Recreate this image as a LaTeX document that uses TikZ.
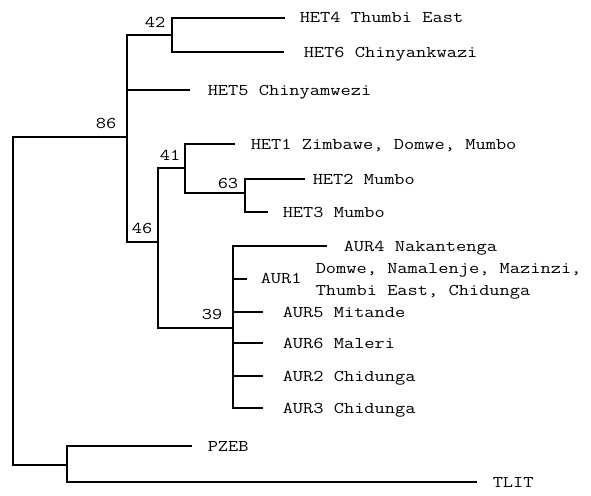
\documentclass[tikz,border=0pt]{standalone}
\usepackage{fontspec}
\setmonofont{Latin Modern Mono}[FakeStretch=1.21]
\newcommand\treefont{\fontsize{16.4}{22}\selectfont\ttfamily}
\begin{document}
\begin{tikzpicture}[x=1pt,y=-1pt,line width=1.5pt,
  branch/.style={draw=black,line join=miter},
  leaf/.style={anchor=base west,inner sep=0pt,font=\treefont},
  boot/.style={anchor=center,inner sep=0pt,font=\treefont}]
\useasboundingbox[fill=white] (0,0) rectangle (591,495);
% internal nodes
\coordinate (root) at (13,300);
\coordinate (n86) at (127,137);
\coordinate (n42) at (172,35);
\coordinate (n46) at (158,242);
\coordinate (n41) at (185,168);
\coordinate (n63) at (245,193);
\coordinate (n39) at (233,328);
\coordinate (nout) at (67,465);
% branch ends
\coordinate (e4) at (285,18);
\coordinate (e6) at (284,52);
\coordinate (e5) at (190,90);
\coordinate (e1) at (235,144);
\coordinate (e2) at (305,179);
\coordinate (e3) at (268,212);
\coordinate (a4) at (327,246);
\coordinate (a1) at (247,279);
\coordinate (a5) at (263,312);
\coordinate (a6) at (263,343);
\coordinate (a2) at (263,376);
\coordinate (a3) at (263,408);
\coordinate (pz) at (192,446);
\coordinate (tl) at (477,482);
% branches
\draw[branch] (root) |- (n86);
\draw[branch] (root) |- (nout);
\draw[branch] (n86) |- (n42);
\draw[branch] (n86) |- (e5);
\draw[branch] (n86) |- (n46);
\draw[branch] (n42) |- (e4);
\draw[branch] (n42) |- (e6);
\draw[branch] (n46) |- (n41);
\draw[branch] (n46) |- (n39);
\draw[branch] (n41) |- (e1);
\draw[branch] (n41) |- (n63);
\draw[branch] (n63) |- (e2);
\draw[branch] (n63) |- (e3);
\draw[branch] (n39) |- (a4);
\draw[branch] (n39) |- (a1);
\draw[branch] (n39) |- (a5);
\draw[branch] (n39) |- (a6);
\draw[branch] (n39) |- (a2);
\draw[branch] (n39) |- (a3);
\draw[branch] (nout) |- (pz);
\draw[branch] (nout) |- (tl);
% leaf labels
\node[leaf] (het4) at (299,23) {HET4 Thumbi East};
\node[leaf] (het6) at (303,57) {HET6 Chinyankwazi};
\node[leaf] (het5) at (207,95) {HET5 Chinyamwezi};
\node[leaf] (het1) at (250,149) {HET1 Zimbawe, Domwe, Mumbo};
\node[leaf] (het2) at (312,184) {HET2 Mumbo};
\node[leaf] (het3) at (282,217) {HET3 Mumbo};
\node[leaf] (aur4) at (343,251) {AUR4 Nakantenga};
\node[leaf] (aur1) at (260,283) {AUR1};
\node[leaf] (aur1a) at (315,273) {Domwe, Namalenje, Mazinzi,};
\node[leaf] (aur1b) at (315,295) {Thumbi East, Chidunga};
\node[leaf] (aur5) at (282,317) {AUR5 Mitande};
\node[leaf] (aur6) at (282,348) {AUR6 Maleri};
\node[leaf] (aur2) at (282,381) {AUR2 Chidunga};
\node[leaf] (aur3) at (282,413) {AUR3 Chidunga};
\node[leaf] (pzeb) at (207,451) {PZEB};
\node[leaf] (tlit) at (492,487) {TLIT};
% bootstrap values
\node[boot] (b42) at (155,22) {42};
\node[boot] (b86) at (106,123) {86};
\node[boot] (b46) at (142,228) {46};
\node[boot] (b41) at (170,155) {41};
\node[boot] (b63) at (228,183) {63};
\node[boot] (b39) at (212,314) {39};
\end{tikzpicture}
\end{document}
